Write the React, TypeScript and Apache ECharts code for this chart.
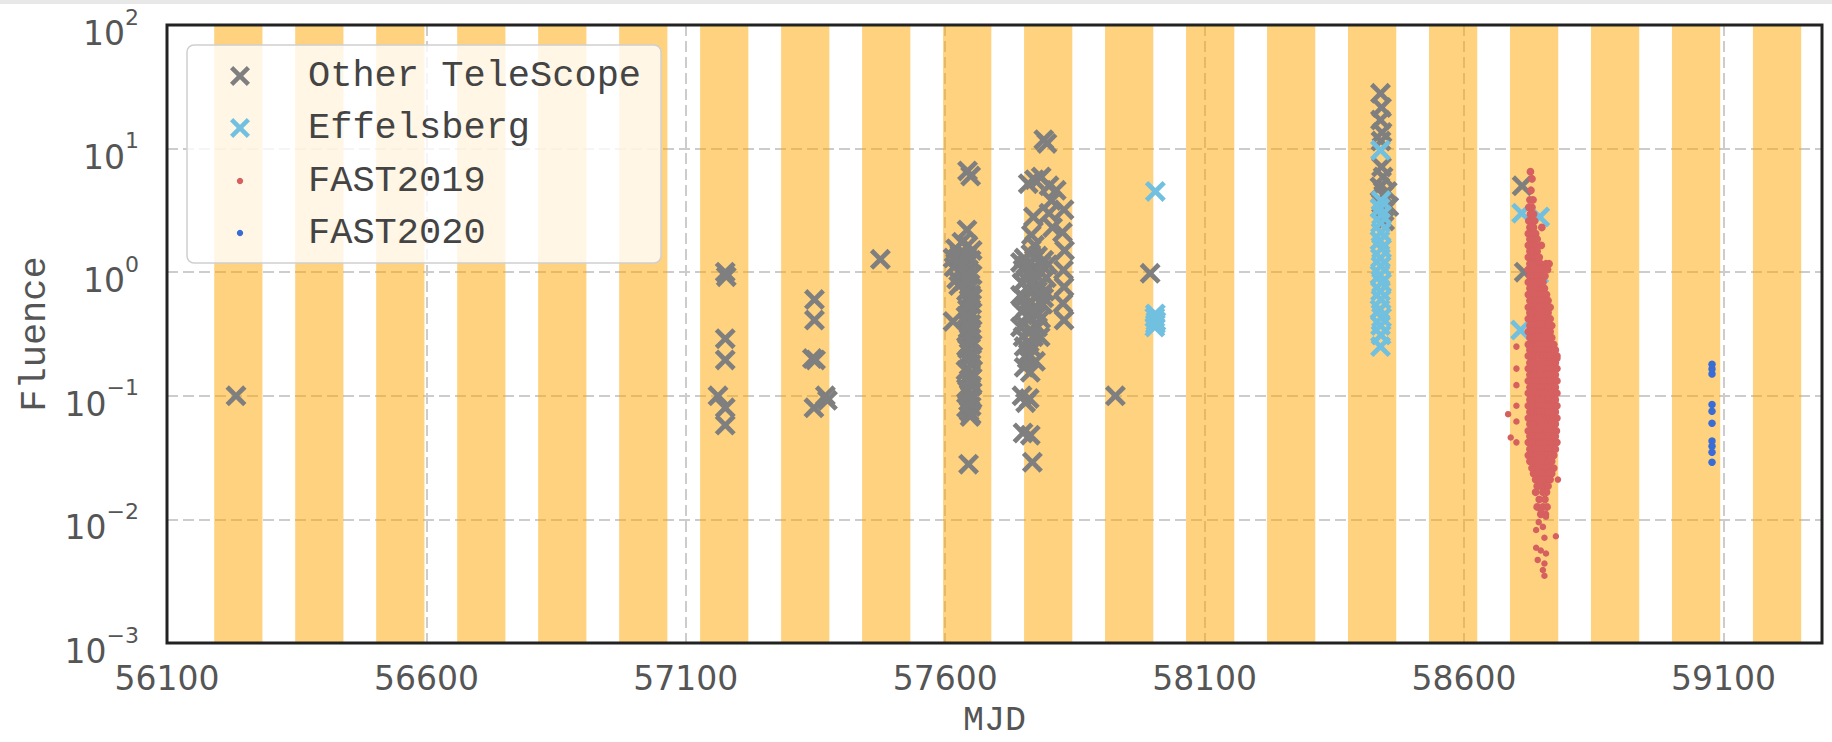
import React, { useEffect, useRef } from "react";
import * as echarts from "echarts";

// ---------- data ----------
const X_MIN = 56100;
const X_MAX = 59290;
const X_STEP = 500;
const Y_MIN = 0.001;
const Y_MAX = 100;

// periodic activity windows (start MJD), width in days
const bandStarts = [
  56191, 56347.1, 56503.2, 56659.3, 56815.4, 56971.5, 57127.6, 57283.7, 57439.8, 57595.9,
  57752, 57908.1, 58064.2, 58220.3, 58376.4, 58532.5, 58688.6, 58844.7, 59000.8, 59156.9,
];
const bandWidth = 93;

const otherTelescope: [number, number][] = [
  [56233, 0.1],
  [57176, 1.0], [57178, 0.92], [57176, 0.29], [57176, 0.195], [57162, 0.1], [57176, 0.08], [57176, 0.058],
  [57348, 0.6], [57348, 0.41], [57344, 0.2], [57350, 0.195], [57369, 0.1], [57373, 0.092], [57347, 0.08],
  [57475, 1.27],
  // ~57640
  [57643, 6.6], [57649, 6.0], [57642, 2.2],
  [57620, 1.55], [57632, 1.75], [57644, 1.65], [57652, 1.5], [57625, 1.3], [57638, 1.2], [57650, 1.25],
  [57617, 1.1], [57630, 1.0], [57645, 1.05], [57652, 0.95], [57622, 0.88], [57636, 0.85], [57648, 0.8],
  [57628, 1.4], [57642, 1.35], [57615, 1.3], [57640, 0.95], [57626, 0.78],
  [57615, 0.4],
  [57644, 0.72], [57649, 0.66], [57646, 0.6], [57651, 0.55], [57643, 0.5], [57648, 0.46], [57645, 0.42],
  [57650, 0.38], [57644, 0.35], [57649, 0.32], [57646, 0.29], [57651, 0.26], [57643, 0.24], [57648, 0.22],
  [57645, 0.2], [57650, 0.18], [57644, 0.165], [57649, 0.15], [57646, 0.135], [57651, 0.12], [57643, 0.11],
  [57648, 0.1], [57645, 0.09], [57650, 0.082], [57646, 0.075], [57648, 0.068],
  [57641, 0.7], [57652, 0.62], [57640, 0.44], [57652, 0.34], [57641, 0.25], [57653, 0.21], [57640, 0.16],
  [57652, 0.14], [57641, 0.115], [57652, 0.095], [57641, 0.08], [57650, 0.07],
  [57645, 0.028],
  // ~57790
  [57790, 11.8], [57796, 11.0],
  [57760, 5.2], [57772, 5.6], [57785, 5.9], [57800, 5.0], [57814, 4.6],
  [57829, 3.2], [57826, 2.1], [57830, 1.5], [57828, 1.04], [57829, 0.76], [57827, 0.56], [57829, 0.41],
  [57805, 3.8], [57800, 3.0], [57807, 2.3],
  [57770, 2.8], [57766, 2.0], [57772, 1.65],
  [57752, 1.3], [57765, 1.4], [57778, 1.35], [57790, 1.25], [57798, 1.15],
  [57750, 1.05], [57760, 0.98], [57772, 1.1], [57784, 1.0], [57795, 0.9],
  [57748, 0.82], [57758, 0.75], [57770, 0.85], [57782, 0.78], [57792, 0.7],
  [57752, 0.62], [57764, 0.58], [57776, 0.65], [57788, 0.55],
  [57748, 0.48], [57760, 0.45], [57772, 0.5], [57784, 0.42],
  [57752, 0.38], [57765, 0.34], [57778, 0.36], [57750, 0.3], [57762, 0.27],
  [57745, 1.2], [57758, 1.15], [57785, 1.15], [57755, 0.88], [57778, 0.92], [57765, 0.68], [57790, 0.62],
  [57745, 0.65], [57778, 0.45], [57756, 0.52], [57770, 0.3], [57745, 0.36], [57783, 0.3], [57760, 0.22],
  [57752, 0.25], [57768, 0.24], [57758, 0.2], [57774, 0.19], [57752, 0.17], [57764, 0.155],
  [57748, 0.1], [57762, 0.095], [57755, 0.088],
  [57750, 0.05], [57764, 0.048], [57768, 0.029],
  [57928, 0.1],
  [57995, 0.98],
  // ~58440
  [58439, 28], [58441, 21.5], [58439, 17], [58442, 13.5], [58440, 11.5], [58441, 7.1], [58444, 5.9],
  [58438, 4.9], [58445, 4.2], [58441, 3.6], [58446, 3.1], [58447, 2.6], [58452, 4.5], [58455, 3.4],
  // ~58715
  [58712, 5.0], [58716, 1.0],
];

const effelsberg: [number, number][] = [
  [58005, 4.5], [58005, 0.46], [58004, 0.43], [58006, 0.4], [58005, 0.38], [58004, 0.36],
  [58439, 9.7], [58440, 3.8], [58438, 3.3], [58441, 2.9], [58439, 2.5], [58440, 2.1], [58438, 1.8],
  [58441, 1.55], [58439, 1.3], [58440, 1.12], [58438, 0.95], [58441, 0.82], [58439, 0.7], [58440, 0.6],
  [58438, 0.5], [58441, 0.43], [58439, 0.37], [58440, 0.31], [58439, 0.25],
  [58711, 3.0], [58746, 2.8], [58744, 0.97], [58709, 0.34],
];

// FAST 2019: rows of [fluence, MJDs at that fluence]
const fast2019Rows: [number, number[]][] = [
  [6.5, [58728]],
  [5.7, [58731]],
  [4.6, [58729]],
  [3.85, [58727, 58733]],
  [3.35, [58725, 58731]],
  [2.95, [58728, 58734]],
  [2.6, [58725, 58731, 58736]],
  [2.3, [58727, 58734, 58750]],
  [2.05, [58724, 58731, 58738]],
  [1.85, [58727, 58734, 58741]],
  [1.65, [58724, 58731, 58738, 58749]],
  [1.48, [58727, 58734, 58741]],
  [1.32, [58724, 58731, 58738, 58745]],
  [1.17, [58727, 58734, 58741, 58748, 58758, 58764]],
  [1.05, [58724, 58731, 58738, 58745, 58752, 58761]],
  [0.93, [58727, 58734, 58741, 58748, 58756]],
  [0.83, [58724, 58731, 58738, 58745, 58752]],
  [0.74, [58727, 58734, 58741, 58748, 58755]],
  [0.66, [58724, 58730, 58738, 58745, 58752, 58759]],
  [0.59, [58727, 58734, 58741, 58748, 58755, 58762]],
  [0.52, [58724, 58731, 58737, 58745, 58752, 58759, 58766]],
  [0.47, [58727, 58734, 58741, 58748, 58755, 58762]],
  [0.42, [58724, 58731, 58738, 58745, 58751, 58759, 58766]],
  [0.37, [58727, 58734, 58741, 58748, 58755, 58762, 58769]],
  [0.33, [58724, 58731, 58738, 58745, 58752, 58759, 58766]],
  [0.295, [58727, 58734, 58741, 58748, 58755, 58762, 58769]],
  [0.26, [58724, 58731, 58738, 58745, 58752, 58759, 58766, 58773]],
  [0.235, [58727, 58734, 58741, 58748, 58755, 58762, 58769, 58776]],
  [0.21, [58724, 58731, 58738, 58745, 58752, 58759, 58766, 58773, 58779]],
  [0.185, [58727, 58734, 58740, 58748, 58755, 58762, 58769, 58776]],
  [0.166, [58724, 58731, 58738, 58745, 58752, 58759, 58766, 58773, 58779]],
  [0.148, [58727, 58734, 58741, 58748, 58755, 58761, 58769, 58776]],
  [0.132, [58724, 58730, 58738, 58745, 58752, 58759, 58766, 58773, 58779]],
  [0.117, [58727, 58734, 58741, 58748, 58755, 58762, 58769, 58776]],
  [0.105, [58724, 58731, 58738, 58744, 58752, 58759, 58766, 58772, 58779]],
  [0.093, [58727, 58734, 58741, 58748, 58755, 58762, 58769, 58776]],
  [0.083, [58724, 58731, 58738, 58745, 58752, 58759, 58765, 58773, 58779]],
  [0.074, [58727, 58734, 58741, 58748, 58756, 58762, 58769, 58776]],
  [0.066, [58724, 58731, 58738, 58745, 58752, 58759, 58766, 58773, 58779]],
  [0.059, [58727, 58733, 58741, 58748, 58755, 58762, 58769, 58776]],
  [0.052, [58724, 58731, 58738, 58745, 58752, 58759, 58766, 58773, 58778]],
  [0.047, [58727, 58734, 58741, 58748, 58755, 58762, 58769, 58776]],
  [0.042, [58724, 58731, 58738, 58745, 58752, 58759, 58766, 58773, 58779]],
  [0.037, [58727, 58734, 58741, 58748, 58755, 58762, 58769, 58776]],
  [0.033, [58724, 58731, 58738, 58745, 58752, 58759, 58766, 58773]],
  [0.0295, [58727, 58734, 58741, 58748, 58755, 58762, 58769]],
  [0.026, [58731, 58738, 58745, 58752, 58759, 58766, 58773]],
  [0.0235, [58734, 58741, 58748, 58755, 58762, 58769]],
  [0.021, [58738, 58745, 58752, 58759, 58766]],
  [0.0186, [58741, 58748, 58755, 58762]],
  [0.0166, [58738, 58752, 58759]],
  [0.0145, [58745, 58756]],
  [0.0126, [58741, 58752, 58760]],
  [0.011, [58748, 58757]],
];

const fast2019Extra: [number, number][] = [
  [58780, 0.2], [58781, 0.021], [58777, 0.0073],
  [58739, 0.0082], [58752, 0.0087], [58755, 0.0071], [58739, 0.0059], [58748, 0.0056], [58758, 0.0053],
  [58742, 0.0047], [58755, 0.0044], [58752, 0.0039], [58755, 0.0035], [58758, 0.0105], [58748, 0.0115],
  [58744, 0.0095],
  [58701, 0.25], [58701, 0.166], [58701, 0.122], [58701, 0.083], [58701, 0.062], [58701, 0.042],
  [58685, 0.071], [58690, 0.046],
];

const fast2020: [number, number][] = [
  [59078, 0.18], [59078, 0.165], [59078, 0.15], [59078, 0.085], [59078, 0.075],
  [59078, 0.06], [59078, 0.043], [59078, 0.039], [59078, 0.035], [59078, 0.029],
];

const legendNames = ["Other TeleScope", "Effelsberg", "FAST2019", "FAST2020"];
const colors = ["#7f7f7f", "#72c0e0", "#d65f5f", "#3a6cd6"];

// ---------- drawing ----------
const X_PATH =
  "path://M0,3.2L3.2,0L10,6.8L16.8,0L20,3.2L13.2,10L20,16.8L16.8,20L10,13.2L3.2,20L0,16.8L6.8,10Z";
const X_POLY = [
  [0, 3.2], [3.2, 0], [10, 6.8], [16.8, 0], [20, 3.2], [13.2, 10],
  [20, 16.8], [16.8, 20], [10, 13.2], [3.2, 20], [0, 16.8], [6.8, 10],
];

const GRID = { left: 167, top: 25, right: 10, bottom: 99 };
const W = 1832;
const H = 742;

const supText = (e: number) => (e < 0 ? "\u2212" : "") + Math.abs(e);

export default function App() {
  const ref = useRef<HTMLDivElement>(null);

  useEffect(() => {
    if (!ref.current) return;
    const chart = echarts.init(ref.current, undefined, { renderer: "svg" });

    const fast2019: any[] = [];
    fast2019Rows.forEach(([f, mjds]) => mjds.forEach((m) => fast2019.push({ value: [m, f], symbolSize: 7.8 })));
    fast2019Extra.forEach((p) => fast2019.push({ value: p, symbolSize: 6.5 }));

    const lx = 187, ly = 45;
    const rowY = [76, 128, 181, 233];
    const Z = 100;
    const legendEls: any[] = [
      {
        type: "rect",
        z: Z,
        shape: { x: lx, y: ly, width: 474, height: 218, r: 7 },
        style: { fill: "rgba(255,255,255,0.8)", stroke: "#cfcfcf", lineWidth: 1.5 },
      },
    ];
    [0, 1].forEach((i) => {
      legendEls.push({
        type: "polygon",
        z: Z + 1,
        shape: { points: X_POLY.map(([a, b]) => [230 + a, rowY[i] - 10 + b]) },
        style: { fill: colors[i] },
      });
    });
    [2, 3].forEach((i) => {
      legendEls.push({
        type: "circle",
        z: Z + 1,
        shape: { cx: 240, cy: rowY[i], r: 3.2 },
        style: { fill: colors[i] },
      });
    });
    legendNames.forEach((n, i) => {
      legendEls.push({
        type: "text",
        z: Z + 1,
        x: 308,
        y: rowY[i],
        style: {
          text: n,
          fontSize: 37,
          fontFamily: "Liberation Mono",
          fill: "#444",
          align: "left",
          verticalAlign: "middle",
        },
      });
    });

    const nameStyle = { fontSize: 37, fontFamily: "Liberation Mono", color: "#555" };

    chart.setOption({
      animation: false,
      grid: { ...GRID, show: false, containLabel: false, outerBoundsMode: "none" },
      xAxis: {
        type: "value",
        min: X_MIN,
        max: X_MAX,
        interval: X_STEP,
        name: "MJD",
        nameLocation: "middle",
        nameGap: 60,
        nameTextStyle: { ...nameStyle, fontSize: 35 },
        axisLine: { show: false },
        axisTick: { show: false },
        axisLabel: {
          fontSize: 33,
          fontFamily: "DejaVu Sans",
          color: "#555",
          margin: 19,
          showMaxLabel: false,
          formatter: (v: number) => ((v - X_MIN) % X_STEP === 0 && v <= 59100 ? String(v) : ""),
        },
        splitLine: { show: true, lineStyle: { type: [11, 5], color: "#cccccc", width: 2 } },
      },
      yAxis: {
        type: "log",
        logBase: 10,
        min: Y_MIN,
        max: Y_MAX,
        name: "Fluence",
        nameLocation: "middle",
        nameGap: 79,
        nameTextStyle: nameStyle,
        axisLine: { show: false },
        axisTick: { show: false },
        axisLabel: {
          margin: 28,
          padding: [6, 0, 0, 0],
          formatter: (v: number) => {
            const e = Math.round(Math.log10(v));
            return `{b|10}{s|${supText(e)}}`;
          },
          rich: {
            b: { fontSize: 33, fontFamily: "DejaVu Sans", color: "#555", lineHeight: 44, verticalAlign: "bottom" },
            s: { fontSize: 22, fontFamily: "DejaVu Sans", color: "#555", verticalAlign: "top" },
          },
        },
        splitLine: { show: true, lineStyle: { type: [11, 5], color: "#cccccc", width: 2 } },
      },
      series: [
        {
          name: "bands",
          type: "scatter",
          data: [],
          z: 1,
          silent: true,
          markArea: {
            silent: true,
            itemStyle: { color: "rgba(255,165,0,0.5)" },
            data: bandStarts.map((s) => [{ xAxis: s }, { xAxis: s + bandWidth }]),
          },
        },
        {
          name: legendNames[0],
          type: "scatter",
          z: 3,
          symbol: X_PATH,
          symbolSize: 21,
          itemStyle: { color: colors[0], opacity: 1 },
          data: otherTelescope,
        },
        {
          name: legendNames[1],
          type: "scatter",
          z: 3,
          symbol: X_PATH,
          symbolSize: 21,
          itemStyle: { color: colors[1], opacity: 1 },
          data: effelsberg,
        },
        {
          name: legendNames[2],
          type: "scatter",
          z: 3,
          symbol: "circle",
          itemStyle: { color: colors[2], opacity: 1 },
          data: fast2019,
        },
        {
          name: legendNames[3],
          type: "scatter",
          z: 3,
          symbol: "circle",
          symbolSize: 7.5,
          itemStyle: { color: colors[3], opacity: 1 },
          data: fast2020,
        },
      ],
      graphic: [
        { type: "rect", z: 50, shape: { x: 0, y: 0, width: W, height: 4 }, style: { fill: "#e8e8e8" } },
        {
          type: "rect",
          z: 60,
          shape: { x: GRID.left, y: GRID.top, width: W - GRID.left - GRID.right, height: H - GRID.top - GRID.bottom },
          style: { fill: "none", stroke: "#222", lineWidth: 3 },
        },
        ...legendEls,
      ],
    });

    return () => chart.dispose();
  }, []);

  return (
    <div
      ref={ref}
      style={{ position: "fixed", left: 0, top: 0, width: W, height: H, background: "#fff" }}
    />
  );
}
